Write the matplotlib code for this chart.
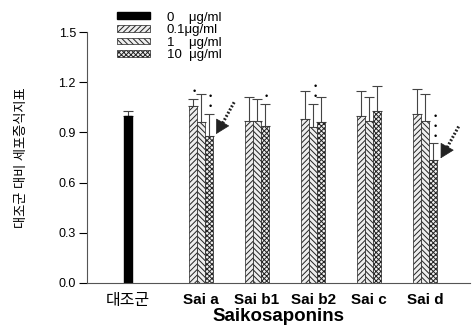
import numpy as np
import matplotlib
matplotlib.use("Agg")
import matplotlib.pyplot as plt
from matplotlib.patches import Patch

plt.rcParams['font.family'] = ['Liberation Sans', 'Noto Sans CJK KR']
plt.rcParams['hatch.linewidth'] = 0.7

# data
groups = ['Sai a', 'Sai b1', 'Sai b2', 'Sai c', 'Sai d']
doses = ['0.1μg/ml', '1    μg/ml', '10  μg/ml']
control_value = 1.00
control_err = 0.03
values = {
    '0.1': [1.06, 0.97, 0.98, 1.00, 1.01],
    '1':   [0.96, 0.97, 0.93, 0.97, 0.97],
    '10':  [0.88, 0.94, 0.96, 1.03, 0.735],
}
errors = {
    '0.1': [0.04, 0.14, 0.17, 0.15, 0.15],
    '1':   [0.17, 0.13, 0.14, 0.14, 0.16],
    '10':  [0.13, 0.13, 0.15, 0.15, 0.10],
}
stars = {
    '0.1': [1, 0, 0, 0, 0],
    '1':   [0, 0, 2, 0, 0],
    '10':  [2, 1, 0, 0, 3],
}
arrow_groups = [0, 4]  # groups with a dotted arrow at the 10 ug/ml bar

keys = ['0.1', '1', '10']
hatches = ['//////', '\\\\\\\\\\\\', 'xxxxxxx']
width = 0.143
x_groups = np.arange(len(groups)) + 1.3

fig = plt.figure(figsize=(4.75, 3.27), dpi=100)
ax = fig.add_axes([0.183, 0.135, 0.807, 0.767])

# control bar
ax.bar(0, control_value, width, color='black', edgecolor='black', zorder=2)
ax.errorbar(0, control_value, yerr=[[0], [control_err]], fmt='none',
            ecolor='#444444', elinewidth=0.8, capsize=3.5, capthick=0.8, zorder=1)

for i, k in enumerate(keys):
    xs = x_groups + (i - 1) * width
    ax.bar(xs, values[k], width, color='#eeeeee', edgecolor='#222222',
           hatch=hatches[i], linewidth=0.5, zorder=2)
    ax.errorbar(xs, values[k], yerr=[np.zeros(len(groups)), errors[k]], fmt='none',
                ecolor='#444444', elinewidth=0.8, capsize=3.5, capthick=0.8, zorder=1)
    for j, n in enumerate(stars[k]):
        top = values[k][j] + errors[k][j]
        for s in range(n):
            ax.text(xs[j] + 0.03, top + 0.015 + s * 0.06, '•', ha='center', va='bottom',
                    fontsize=6.5)

# dotted arrows pointing at the reduced bars
for j in arrow_groups:
    bx = x_groups[j] + width
    by = values['10'][j]
    ax.plot([bx + 0.45, bx + 0.22], [by + 0.2, by + 0.06], ls=(0, (0.6, 0.6)),
            color='#222222', lw=2.2)
    ax.annotate('', xy=(bx + 0.13, by + 0.01), xytext=(bx + 0.23, by + 0.07),
                arrowprops=dict(arrowstyle='-|>,head_width=0.5,head_length=0.9',
                                color='#222222', lw=0.5, shrinkA=0, shrinkB=0))

ax.set_xlim(-0.73, 6.1)
ax.set_ylim(0, 1.5)
ax.set_yticks([0.0, 0.3, 0.6, 0.9, 1.2, 1.5])
ax.set_yticklabels(['0.0', '0.3', '0.6', '0.9', '1.2', '1.5'], fontsize=9)
ax.set_xticks([0] + list(x_groups))
ax.set_xticklabels(['대조군'] + groups, fontsize=11, fontweight='bold')
ax.get_xticklabels()[0].set_fontweight('medium')
ax.get_xticklabels()[0].set_fontsize(11.5)
ax.tick_params(axis='x', length=0, pad=7)
ax.tick_params(axis='y', length=6, width=0.8, direction='out', pad=2)
for sp in ['top', 'right']:
    ax.spines[sp].set_visible(False)
ax.spines['left'].set_color('#555555')
ax.spines['bottom'].set_color('#555555')
ax.set_xlabel('Saikosaponins', fontsize=13.5, fontweight='bold', labelpad=0)
ax.set_ylabel('대조군 대비 세포증식지표', fontsize=9.5, labelpad=22)

handles = [Patch(facecolor='black', edgecolor='black')]
handles += [Patch(facecolor='#eeeeee', edgecolor='#222222', hatch=h, linewidth=0.5) for h in hatches]
fig.legend(handles, ['0    μg/ml'] + doses, loc='upper left', bbox_to_anchor=(0.232, 0.985),
           frameon=False, fontsize=9.5, handlelength=2.5, handleheight=0.4,
           labelspacing=0.05, handletextpad=1.3, borderpad=0)

fig.savefig('out.png', dpi=100)
